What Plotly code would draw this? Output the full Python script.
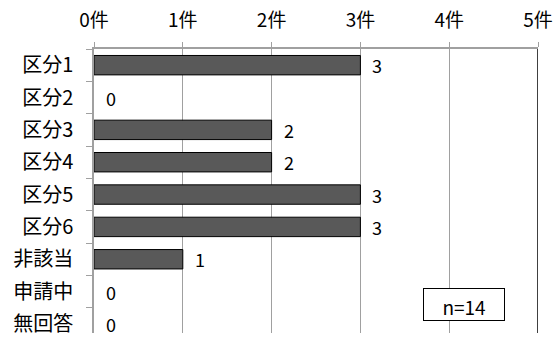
import plotly.graph_objects as go

categories = ["区分1", "区分2", "区分3", "区分4", "区分5", "区分6", "非該当", "申請中", "無回答"]
values = [3, 0, 2, 2, 3, 3, 1, 0, 0]
tick_vals = [0, 1, 2, 3, 4, 5]
tick_text = ["0件", "1件", "2件", "3件", "4件", "5件"]
n_label = "n=14"

FONT = "Noto Sans CJK JP"

fig = go.Figure()
fig.add_trace(go.Bar(
    x=values, y=categories, orientation="h",
    marker=dict(color="#595959",
                line=dict(color="#000000", width=[1 if v > 0 else 0 for v in values])),
    width=0.6,
))

for c, v in zip(categories, values):
    fig.add_annotation(x=v, y=c, text=str(v), showarrow=False, xanchor="left",
                       yanchor="middle", height=20, xshift=10,
                       font=dict(family=FONT, size=18, color="#000000"))

fig.add_shape(type="line", xref="x", yref="paper", x0=5, x1=5, y0=0, y1=1,
              line=dict(color="#000000", width=1.5))

fig.add_annotation(xref="paper", yref="paper", x=0.833, y=0.099,
                   xanchor="center", yanchor="middle", text=n_label,
                   showarrow=False, width=80, height=31, valign="bottom",
                   bordercolor="#000000", borderwidth=1, borderpad=0,
                   bgcolor="#ffffff",
                   font=dict(family=FONT, size=19, color="#000000"))

fig.update_layout(
    width=554, height=337,
    margin=dict(l=94, r=16, t=49, b=0),
    paper_bgcolor="#ffffff", plot_bgcolor="#ffffff",
    showlegend=False,
    font=dict(family=FONT, color="#000000"),
    xaxis=dict(side="top", range=[0, 5], tickvals=tick_vals, ticktext=tick_text,
               showgrid=True, gridcolor="#a0a0a0", gridwidth=1,
               showline=True, linecolor="#a0a0a0", linewidth=1.5,
               ticks="outside", ticklen=5, tickcolor="#a0a0a0",
               ticklabelstandoff=8,
               tickfont=dict(family=FONT, size=19), zeroline=False),
    yaxis=dict(type="category", categoryorder="array", categoryarray=categories,
               range=[8.28, -0.5], showline=True, linecolor="#a0a0a0", linewidth=1.5,
               ticks="outside", ticklen=6, tickcolor="#a0a0a0", tickson="boundaries",
               ticklabelstandoff=15,
               tickfont=dict(family=FONT, size=20), showgrid=False),
)

fig.write_html("out.html")
